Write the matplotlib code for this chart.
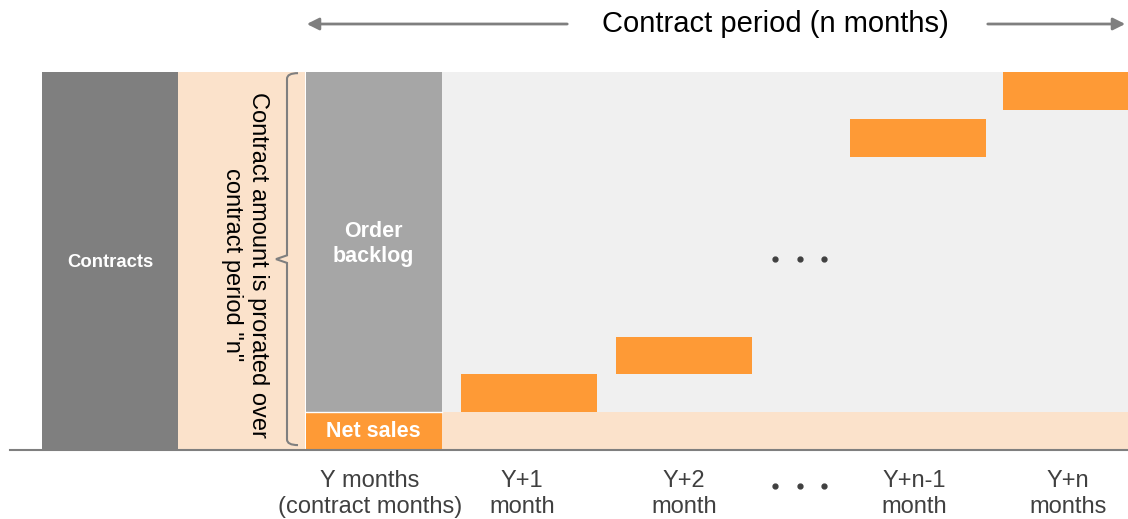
import matplotlib.pyplot as plt
from matplotlib.path import Path
from matplotlib.patches import PathPatch

plt.rcParams['font.family'] = ['Liberation Sans', 'DejaVu Sans']

# data
month_labels = ["Y months\n(contract months)", "Y+1\nmonth", "Y+2\nmonth", "Y+n-1\nmonth", "Y+n\nmonths"]
contract_total = 10.0
monthly_sales = 1.0
sales_bottoms = [0.0, 1.0, 2.0, 7.75, 9.0]

# layout (x in pixel-like units, y in amount units)
col_centers = [373.5, 529, 684, 918, 1071]
label_centers = [370, 522, 684, 914, 1068]
bar_w = 136
contracts_x = 110
prorate_left, prorate_right = 178, 305
dots_x = 800

grey_dark = '#7f7f7f'
grey_mid = '#a6a6a6'
grey_bg = '#f0f0f0'
peach = '#fbe2cb'
orange = '#fe9a36'
text_col = '#404040'

fig = plt.figure(figsize=(11.28, 5.19), dpi=100)
ax = fig.add_axes([0, 0, 1, 1])
ax.set_xlim(0, 1128)
ax.set_ylim(-1.825, 11.905)
ax.axis('off')

# contracts bar
ax.bar(contracts_x, contract_total, width=bar_w, color=grey_dark)
ax.text(contracts_x, contract_total * 0.496, "Contracts", color='white', fontweight='bold',
        fontsize=13.3, ha='center', va='center')

# prorated band
ax.bar((prorate_left + prorate_right) / 2, contract_total, width=prorate_right - prorate_left, color=peach)
ax.text(245, contract_total * 0.49, 'Contract amount is prorated over\ncontract period "n"',
        rotation=-90, fontsize=17, ha='center', va='center', linespacing=1.25,
        rotation_mode='anchor')

# background of later months
bg_left = col_centers[0] + bar_w / 2
ax.bar((bg_left + 1128) / 2, contract_total - monthly_sales, bottom=monthly_sales,
       width=1128 - bg_left, color=grey_bg)
ax.bar((bg_left + 1128) / 2, monthly_sales, width=1128 - bg_left, color=peach)

# Y month: order backlog + net sales
ax.bar(col_centers[0], contract_total - monthly_sales, bottom=monthly_sales, width=bar_w,
       color=grey_mid)
ax.bar(col_centers[0], monthly_sales, width=bar_w, color=orange)
ax.plot([col_centers[0] - bar_w / 2, col_centers[0] + bar_w / 2], [monthly_sales] * 2,
        color='white', lw=1)
ax.text(col_centers[0], contract_total * 0.545, "Order\nbacklog", color='white', fontweight='bold',
        fontsize=15.5, ha='center', va='center', linespacing=1.2)
ax.text(col_centers[0], monthly_sales / 2, "Net sales", color='white', fontweight='bold',
        fontsize=15.5, ha='center', va='center')

# future months
ax.bar(col_centers[1:], [monthly_sales] * 4, bottom=sales_bottoms[1:], width=bar_w, color=orange)

# ellipsis in chart and under axis
for dx in (-25, 0, 24):
    ax.plot(dots_x + dx, contract_total * 0.505, 'o', color=text_col, ms=3.5)
    ax.plot(dots_x + dx, -0.95, 'o', color=text_col, ms=3.5)

# baseline
ax.plot([10, 1128], [0, 0], color=grey_dark, lw=1.5)

# brace
y_top, y_bot = contract_total - 0.03, 0.13
y_mid = (y_top + y_bot) / 2
verts = [(298, y_top), (287, y_top), (287, y_top - 0.15), (287, y_mid + 0.1), (276, y_mid),
         (287, y_mid - 0.1), (287, y_bot + 0.15), (287, y_bot), (298, y_bot)]
codes = [Path.MOVETO, Path.CURVE3, Path.CURVE3, Path.LINETO, Path.LINETO,
         Path.LINETO, Path.LINETO, Path.CURVE3, Path.CURVE3]
ax.add_patch(PathPatch(Path(verts, codes), fill=False, edgecolor=grey_dark, lw=1.5))

# month labels
for xc, lab in zip(label_centers, month_labels):
    ax.text(xc, -1.17, lab, color=text_col, fontsize=17, ha='center', va='center', linespacing=1.25)

# contract period header
y_head = 11.27
ax.text(775, y_head, "Contract period (n months)", fontsize=21, ha='center', va='center')
arrow = dict(arrowstyle='-|>', color=grey_dark, lw=2, mutation_scale=18)
ax.annotate('', xy=(304, y_head), xytext=(570, y_head), arrowprops=arrow)
ax.annotate('', xy=(1128, y_head), xytext=(985, y_head), arrowprops=arrow)

fig.savefig('out.png', dpi=100)
